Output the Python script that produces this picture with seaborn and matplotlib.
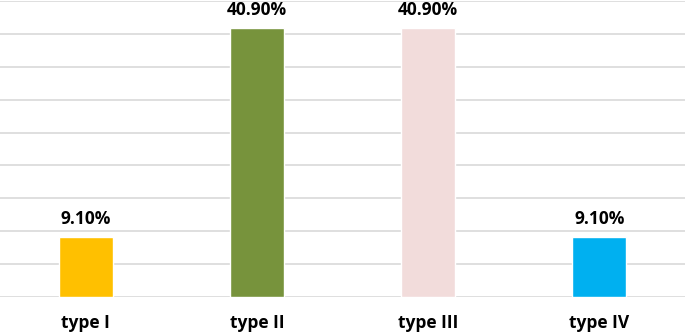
import matplotlib
matplotlib.use("Agg")
import matplotlib.pyplot as plt
import seaborn as sns
import pandas as pd

# chart values
categories = ["type I", "type II", "type III", "type IV"]
percent = [9.10, 40.90, 40.90, 9.10]
bar_colors = ["#FFC000", "#77933C", "#F2DCDB", "#00B0F0"]

df = pd.DataFrame({"type": categories, "percent": percent})

sns.set_style("white")
plt.rcParams["font.family"] = ["Open Sans", "DejaVu Sans"]

fig = plt.figure(figsize=(6.85, 3.34), dpi=100)
ax = fig.add_axes([0, 1 - 297 / 334, 1, 296 / 334])

sns.barplot(data=df, x="type", y="percent", hue="type", palette=bar_colors,
            width=0.315, legend=False, ax=ax, saturation=1)

ax.set_ylim(0, 45)
ax.set_xlim(-0.5, 3.5)
ax.set_yticks(range(0, 46, 5))
ax.yaxis.grid(True, color="#D9D9D9", linewidth=1.2)
ax.set_axisbelow(True)
for s in ax.spines.values():
    s.set_visible(False)
ax.tick_params(axis="y", left=False, labelleft=False)
ax.tick_params(axis="x", bottom=False, pad=9)
ax.set_xlabel("")
ax.set_ylabel("")
for lbl in ax.get_xticklabels():
    lbl.set_fontsize(12.5)
    lbl.set_fontweight("bold")
    lbl.set_color("black")

for i, v in enumerate(percent):
    ax.annotate(f"{v:.2f}%", (i, v), xytext=(0, 6.5), textcoords="offset points",
                ha="center", va="bottom", fontsize=12.5, fontweight="bold",
                color="black")

fig.savefig("out.png", dpi=100)
